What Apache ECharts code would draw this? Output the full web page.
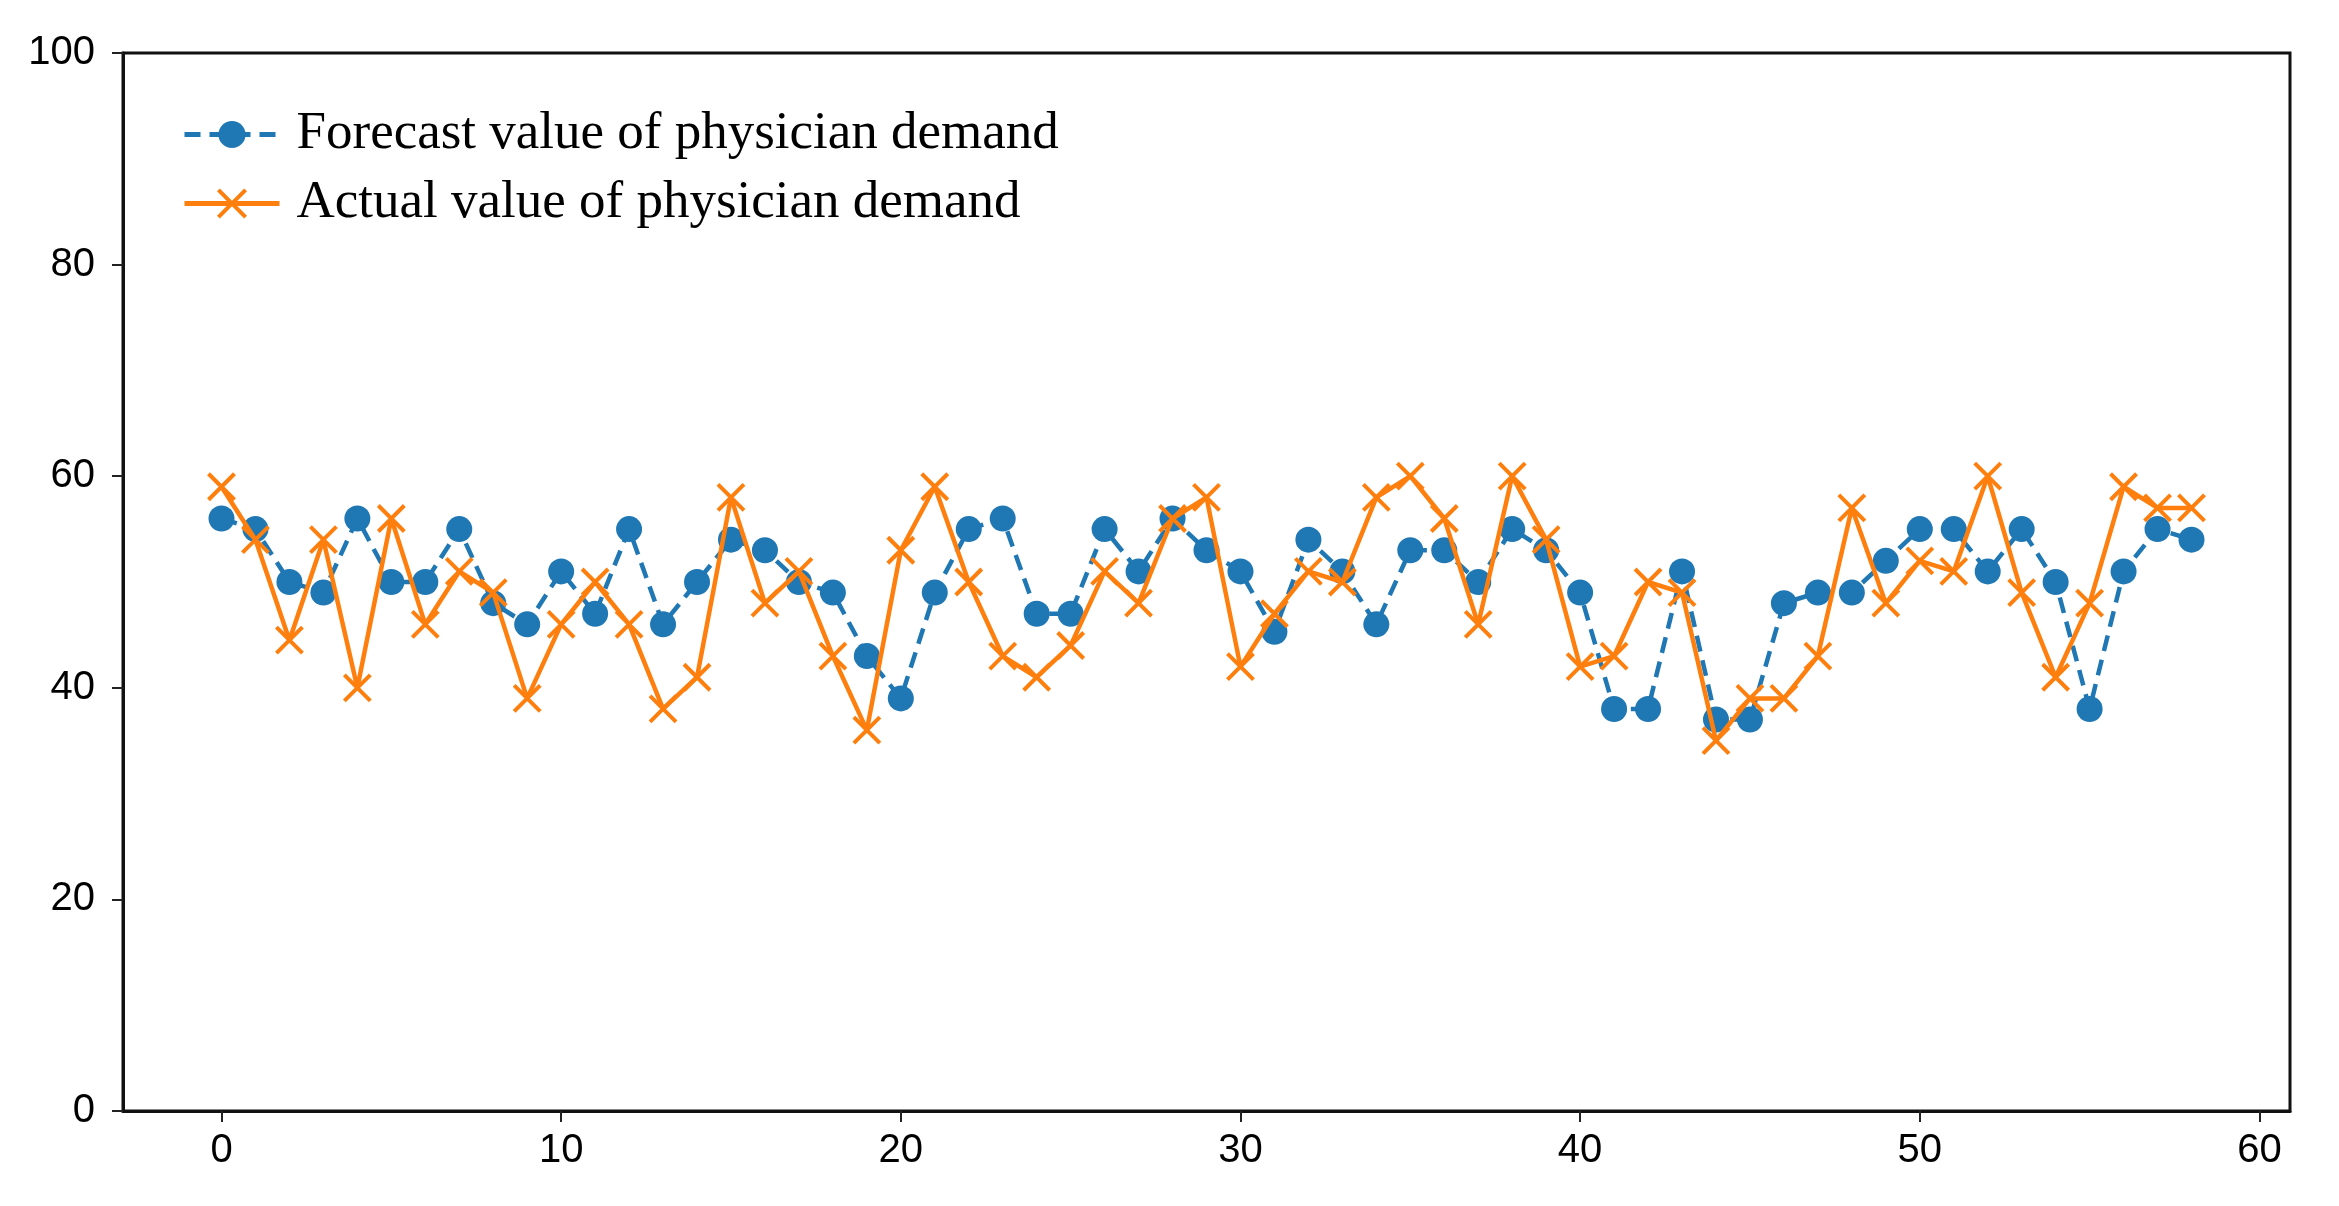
<!DOCTYPE html>
<html>
<head>
<meta charset="utf-8">
<script src="https://cdn.jsdelivr.net/npm/echarts@6/dist/echarts.min.js"></script>
<style>
html,body{margin:0;padding:0;background:#fff;}
#chart{width:2339px;height:1206px;}
</style>
</head>
<body>
<div id="chart"></div>
<script>
// x positions (sample index)
const xIndex = [0,1,2,3,4,5,6,7,8,9,10,11,12,13,14,15,16,17,18,19,20,21,22,23,24,25,26,27,28,29,30,31,32,33,34,35,36,37,38,39,40,41,42,43,44,45,46,47,48,49,50,51,52,53,54,55,56,57,58];
const forecastValues = [56,55,50,49,56,50,50,55,48,46,51,47,55,46,50,54,53,50,49,43,39,49,55,56,47,47,55,51,56,53,51,45.3,54,51,46,53,53,50,55,53,49,38,38,51,37,37,48,49,49,52,55,55,51,55,50,38,51,55,54];
const actualValues = [59,54,44.5,54,40,56,46,51,49,39,46,50,46,38,41,58,48,51,43,36,53,59,50,43,41,44,51,48,56,58,42,47,51,50,58,60,56,46,60,54,42,43,50,49,35,39,39,43,57,48,52,51,60,49,41,48,59,57,57];
const xTicks = [0,10,20,30,40,50,60];
const yTicks = [0,20,40,60,80,100];
const seriesNames = ['Forecast value of physician demand','Actual value of physician demand'];

const forecastData = xIndex.map((x,i)=>[x, forecastValues[i]]);
const actualData = xIndex.map((x,i)=>[x, actualValues[i]]);

const chart = echarts.init(document.getElementById('chart'));
const axisFont = "'Liberation Sans', Arial, sans-serif";
chart.setOption({
  backgroundColor:'#ffffff',
  animation:false,
  grid:{left:123, top:53, width:2167, height:1058, show:true, borderColor:'#111', borderWidth:3, backgroundColor:'transparent', containLabel:false},
  legend:{
    orient:'vertical', left:182, top:108, padding:0,
    itemWidth:95, itemHeight:34, itemGap:16,
    lineStyle:{width:5},
    textStyle:{fontFamily:"'Liberation Serif','Times New Roman',serif", fontSize:53, color:'#000', lineHeight:50, padding:[0,0,0,12]},
    data:[{name:seriesNames[0]}, {name:seriesNames[1], itemStyle:{borderWidth:4, borderColor:'#ff7f0e'}}]
  },
  xAxis:{
    type:'value', min:-2.9, max:60.9,
    splitLine:{show:false},
    axisLine:{show:true, onZero:false, lineStyle:{color:'#111', width:3}},
    axisTick:{show:true, length:11, customValues:xTicks, lineStyle:{color:'#222', width:2}},
    axisLabel:{customValues:xTicks, margin:20, fontFamily:axisFont, fontSize:40, color:'#000'}
  },
  yAxis:{
    type:'value', min:0, max:100, interval:20,
    splitLine:{show:false},
    axisLine:{show:true, onZero:false, lineStyle:{color:'#111', width:3}},
    axisTick:{show:true, length:11, lineStyle:{color:'#222', width:2}},
    axisLabel:{margin:28, fontFamily:axisFont, fontSize:40, color:'#000'}
  },
  series:[
    {
      name:seriesNames[0], type:'line', data:forecastData,
      symbol:'circle', symbolSize:26, showSymbol:true,
      lineStyle:{color:'#1f77b4', width:4.5, type:[16,9]},
      itemStyle:{color:'#1f77b4'},
      z:2
    },
    {
      name:seriesNames[1], type:'line', data:actualData,
      symbol:'path://M0,0L10,10M10,0L0,10', symbolSize:26, showSymbol:true,
      lineStyle:{color:'#ff7f0e', width:4.5},
      itemStyle:{color:'#ff7f0e', borderColor:'#ff7f0e', borderWidth:4},
      z:3
    }
  ]
});
</script>
</body>
</html>
